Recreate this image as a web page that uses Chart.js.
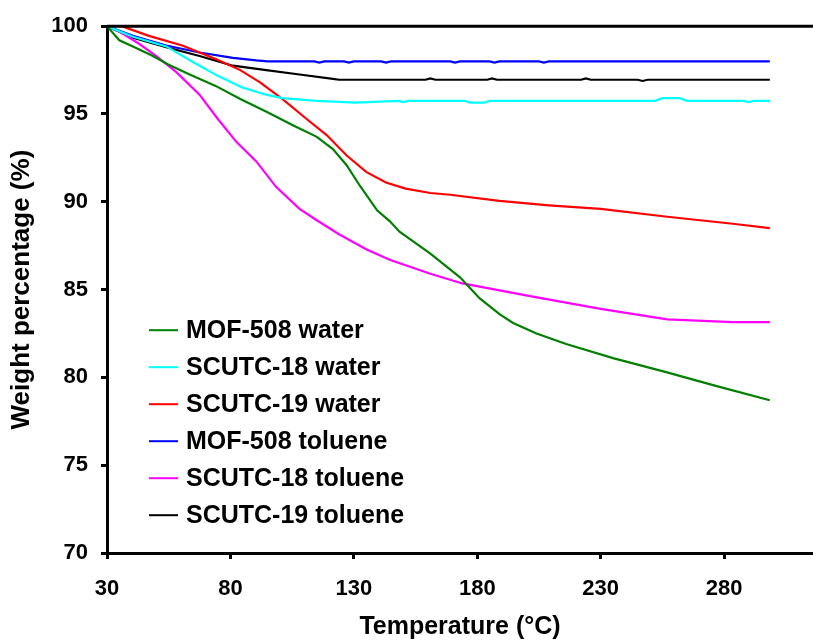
<!DOCTYPE html>
<html>
<head>
<meta charset="utf-8">
<script src="https://cdn.jsdelivr.net/npm/chart.js@4.4.1/dist/chart.umd.min.js"></script>
<style>
  body { margin: 0; background: #fff; }
  #wrap { width: 813px; height: 642px; }
</style>
</head>
<body>
<div id="wrap"><canvas id="tga" width="813" height="642"></canvas></div>
<script>
// axis ticks
const tempTicks = [30, 80, 130, 180, 230, 280];
const weightTicks = [70, 75, 80, 85, 90, 95, 100];

// series: [temperature, weight %]
const mof508Water = [
  [30, 100], [35, 99.2], [40.5, 98.85], [48, 98.35], [55, 97.8], [63.5, 97.25],
  [74, 96.6], [84, 95.85], [95, 95.1], [105.5, 94.35], [115, 93.7], [121.5, 93.0],
  [127, 92.1], [132.5, 90.9], [139.5, 89.5], [144.5, 88.9], [148.5, 88.3],
  [161, 87.05], [173, 85.7], [181, 84.5], [189, 83.6], [194.5, 83.1], [204, 82.5],
  [216, 81.9], [235, 81.1], [256.5, 80.3], [277, 79.5], [298.5, 78.7]
];
const scutc18Water = [
  [30, 100], [40.5, 99.4], [54, 98.85], [65, 97.95], [74.5, 97.2], [85, 96.5],
  [94.5, 96.1], [101, 95.9], [115, 95.75], [131, 95.65], [148, 95.75], [150, 95.68],
  [152, 95.75], [175, 95.75], [177, 95.65], [183, 95.65], [185, 95.75], [252, 95.75],
  [255, 95.9], [262, 95.9], [265, 95.75], [288, 95.75], [290, 95.68], [292, 95.75],
  [298.5, 95.75]
];
const scutc19Water = [
  [30, 100], [36, 100], [47, 99.45], [60.5, 98.9], [74.5, 98.1], [84, 97.5],
  [92, 96.8], [101.5, 95.8], [111, 94.7], [119, 93.8], [127, 92.65], [135, 91.7],
  [143, 91.1], [151, 90.75], [161, 90.5], [169, 90.4], [189, 90.05], [209, 89.8],
  [230, 89.6], [257, 89.15], [283.5, 88.75], [298.5, 88.5]
];
const mof508Toluene = [
  [30, 100], [40.5, 99.45], [54, 98.9], [67.5, 98.5], [81, 98.2], [90.5, 98.05],
  [95, 98.0], [114, 98.0], [116, 97.93], [118, 98.0], [126, 98.0], [128, 97.93],
  [130, 98.0], [141, 98.0], [143, 97.93], [145, 98.0], [169, 98.0], [171, 97.93],
  [173, 98.0], [185, 98.0], [187, 97.93], [189, 98.0], [205, 98.0], [207, 97.93],
  [209, 98.0], [298.5, 98.0]
];
const scutc18Toluene = [
  [30, 100], [35, 99.7], [43, 99.0], [50, 98.3], [58, 97.4], [67.5, 96.1],
  [75, 94.7], [82.5, 93.4], [90.5, 92.3], [98.5, 90.85], [108, 89.6], [115, 88.95],
  [124, 88.15], [135, 87.3], [144.5, 86.7], [161, 85.9], [174, 85.35], [202.5, 84.6],
  [230, 83.9], [257, 83.3], [283.5, 83.15], [298.5, 83.15]
];
const scutc19Toluene = [
  [30, 100], [40.5, 99.35], [54, 98.8], [67.5, 98.3], [81, 97.75], [94.5, 97.5],
  [108, 97.25], [121.5, 97.0], [124, 96.95], [159, 96.95], [161, 97.03], [163, 96.95],
  [184, 96.95], [186, 97.03], [188, 96.95], [222, 96.95], [224, 97.03], [226, 96.95],
  [245, 96.95], [247, 96.88], [249, 96.95], [298.5, 96.95]
];

const seriesNames = [
  "MOF-508 water", "SCUTC-18 water", "SCUTC-19 water",
  "MOF-508 toluene", "SCUTC-18 toluene", "SCUTC-19 toluene"
];
const seriesData = [
  mof508Water, scutc18Water, scutc19Water,
  mof508Toluene, scutc18Toluene, scutc19Toluene
];
const seriesColors = ["#008000", "#00ffff", "#ff0000", "#0000ff", "#ff00ff", "#000000"];

const fontFamily = "Arial, 'Liberation Sans', sans-serif";

// top frame line (the reference has a closed box on top)
const topFrame = {
  id: "topFrame",
  afterDraw(chart) {
    const { ctx, chartArea } = chart;
    ctx.save();
    ctx.strokeStyle = "#000";
    ctx.lineWidth = 3;
    ctx.beginPath();
    ctx.moveTo(chartArea.left, chartArea.top);
    ctx.lineTo(chartArea.right, chartArea.top);
    ctx.stroke();
    ctx.restore();
  },
};

// legend sits inside the plot, lower left
const insideLegend = {
  id: "insideLegend",
  afterDraw(chart) {
    const { ctx, chartArea } = chart;
    ctx.save();
    ctx.font = "bold 25px " + fontFamily;
    ctx.textBaseline = "middle";
    ctx.fillStyle = "#000";
    chart.data.datasets.forEach((ds, i) => {
      const y = chartArea.top + 304 + i * 37;
      ctx.strokeStyle = ds.borderColor;
      ctx.lineWidth = 2;
      ctx.beginPath();
      ctx.moveTo(chartArea.left + 42, y);
      ctx.lineTo(chartArea.left + 71, y);
      ctx.stroke();
      ctx.fillText(ds.label, chartArea.left + 79, y + 1);
    });
    ctx.restore();
  },
};

const chart = new Chart(document.getElementById("tga"), {
  type: "line",
  data: {
    datasets: seriesNames.map((name, i) => ({
      label: name,
      data: seriesData[i].map((p) => ({ x: p[0], y: p[1] })),
      borderColor: seriesColors[i],
      backgroundColor: seriesColors[i],
      borderWidth: 2.2,
      pointRadius: 0,
      tension: 0,
      fill: false,
    })),
  },
  options: {
    responsive: false,
    animation: false,
    devicePixelRatio: 1,
    layout: { padding: { left: 0, top: 23, right: 0, bottom: 0 } },
    plugins: {
      legend: { display: false },
      tooltip: { enabled: false },
    },
    scales: {
      x: {
        type: "linear",
        min: 30,
        max: 316,
        afterBuildTicks: (scale) => {
          scale.ticks = tempTicks.map((v) => ({ value: v }));
        },
        afterFit: (scale) => {
          scale.height = 89;
        },
        border: { display: true, color: "#000", width: 3 },
        grid: {
          display: true,
          drawOnChartArea: false,
          drawTicks: true,
          tickLength: 6,
          tickWidth: 3,
          tickColor: "#000",
        },
        ticks: {
          color: "#000",
          padding: 17,
          maxRotation: 0,
          font: { family: fontFamily, size: 22, weight: "bold" },
        },
        title: {
          display: true,
          text: "Temperature (\u00b0C)",
          color: "#000",
          padding: { top: 0, bottom: 0 },
          font: { family: fontFamily, size: 25, weight: "bold" },
        },
      },
      y: {
        min: 70,
        max: 100,
        afterBuildTicks: (scale) => {
          scale.ticks = weightTicks.map((v) => ({ value: v }));
        },
        afterFit: (scale) => {
          scale.width = 107;
        },
        border: { display: true, color: "#000", width: 3 },
        grid: {
          display: true,
          drawOnChartArea: false,
          drawTicks: true,
          tickLength: 6,
          tickWidth: 3,
          tickColor: "#000",
        },
        ticks: {
          color: "#000",
          padding: 13,
          font: { family: fontFamily, size: 22, weight: "bold" },
        },
        title: {
          display: true,
          text: "Weight percentage (%)",
          color: "#000",
          padding: { top: 6, bottom: 0 },
          font: { family: fontFamily, size: 26, weight: "bold" },
        },
      },
    },
  },
  plugins: [topFrame, insideLegend],
});
</script>
</body>
</html>
